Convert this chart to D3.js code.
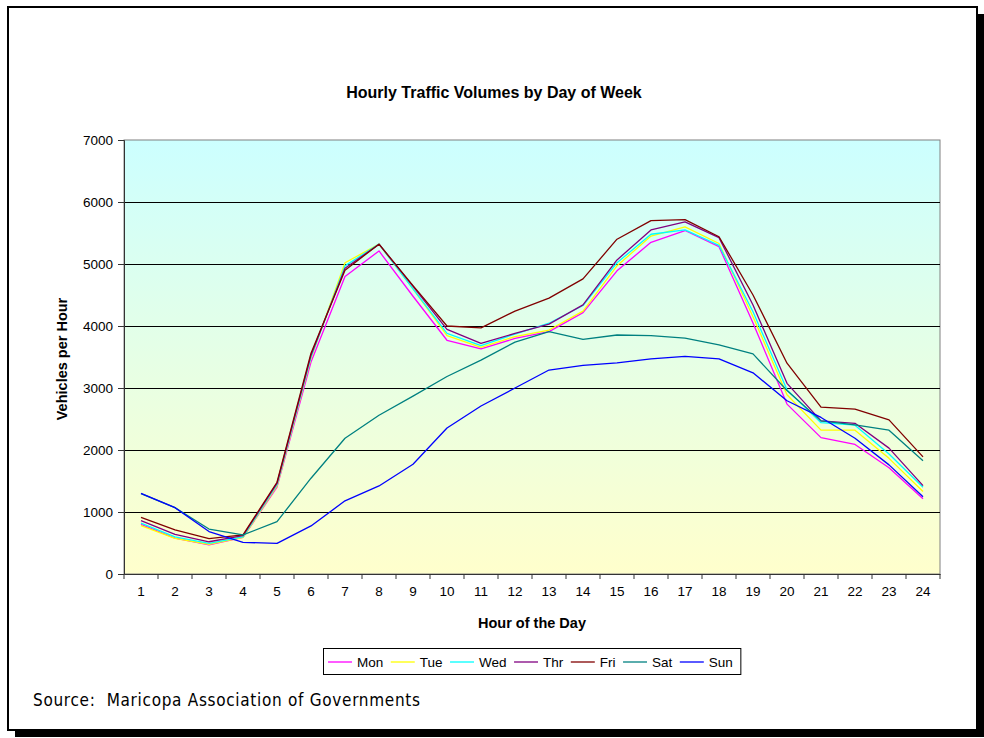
<!DOCTYPE html>
<html>
<head>
<meta charset="utf-8">
<script src="https://cdn.jsdelivr.net/npm/d3@7"></script>
<style>
  html, body { margin: 0; padding: 0; background: #fff; }
  svg { display: block; }
</style>
</head>
<body>
<svg id="chart" width="984" height="738"></svg>
<script>
// Hourly traffic volumes (vehicles per hour), by day of week
const hours = ["1","2","3","4","5","6","7","8","9","10","11","12","13","14","15","16","17","18","19","20","21","22","23","24"];
const yTicks = [0, 1000, 2000, 3000, 4000, 5000, 6000, 7000];
const dayNames = ["Mon", "Tue", "Wed", "Thr", "Fri", "Sat", "Sun"];

const mon = [800, 580, 470, 590, 1400, 3420, 4800, 5210, 4480, 3770, 3630, 3800, 3910, 4215, 4890, 5350, 5540, 5280, 4050, 2740, 2200, 2090, 1715, 1215];
const tue = [780, 575, 480, 590, 1420, 3480, 5020, 5320, 4600, 3845, 3655, 3830, 3935, 4240, 4970, 5450, 5600, 5330, 4150, 2890, 2320, 2320, 1865, 1330];
const wed = [820, 600, 495, 600, 1440, 3500, 4970, 5320, 4600, 3880, 3685, 3870, 4045, 4330, 5020, 5480, 5550, 5300, 4230, 2970, 2440, 2400, 1935, 1400];
const thr = [860, 640, 520, 620, 1460, 3530, 4930, 5320, 4640, 3945, 3720, 3880, 4030, 4340, 5065, 5550, 5680, 5425, 4340, 3075, 2470, 2430, 2030, 1425];
const fri = [915, 710, 570, 630, 1480, 3560, 4900, 5320, 4650, 4000, 3970, 4240, 4450, 4760, 5400, 5700, 5715, 5440, 4500, 3400, 2690, 2660, 2485, 1890];
const sat = [1295, 1070, 725, 630, 845, 1545, 2190, 2560, 2870, 3185, 3450, 3740, 3910, 3785, 3855, 3845, 3805, 3695, 3550, 2960, 2470, 2405, 2320, 1825];
const sun = [1300, 1070, 685, 510, 495, 775, 1180, 1420, 1770, 2355, 2710, 3000, 3290, 3365, 3405, 3470, 3510, 3470, 3245, 2795, 2525, 2190, 1760, 1245];

const dayColors = ["#ff00ff", "#ffff00", "#00ffff", "#800080", "#800000", "#008080", "#0000ff"];
const seriesValues = [mon, tue, wed, thr, fri, sat, sun];

const series = dayNames.map((name, i) => ({ name, color: dayColors[i], values: seriesValues[i] }));

const svg = d3.select("#chart");
const W = 984, H = 738;
const FONT = "'Liberation Sans', Arial, sans-serif";

// Page frame with drop shadow
svg.append("rect").attr("x", 15).attr("y", 14).attr("width", W - 15).attr("height", H - 15).attr("fill", "#000");
svg.append("rect").attr("x", 8).attr("y", 7).attr("width", 969).attr("height", 723)
  .attr("fill", "#fff").attr("stroke", "#000").attr("stroke-width", 2);

// Plot area
const plot = { left: 124, right: 940, top: 140, bottom: 574 };

const x = d3.scaleBand().domain(hours).range([plot.left, plot.right]).paddingInner(0).paddingOuter(0);
const y = d3.scaleLinear().domain([0, 7000]).range([plot.bottom, plot.top]);

const defs = svg.append("defs");
const grad = defs.append("linearGradient").attr("id", "plotFill")
  .attr("x1", 0).attr("y1", 0).attr("x2", 0).attr("y2", 1);
grad.append("stop").attr("offset", "0%").attr("stop-color", "#ccffff");
grad.append("stop").attr("offset", "100%").attr("stop-color", "#ffffcc");

svg.append("rect")
  .attr("x", plot.left).attr("y", plot.top)
  .attr("width", plot.right - plot.left).attr("height", plot.bottom - plot.top)
  .attr("fill", "url(#plotFill)")
  .attr("stroke", "#808080").attr("stroke-width", 1);

// Horizontal gridlines
svg.append("g").selectAll("line")
  .data(yTicks.filter(v => v > 0 && v < 7000))
  .join("line")
  .attr("x1", plot.left).attr("x2", plot.right)
  .attr("y1", d => Math.round(y(d)) + 0.5).attr("y2", d => Math.round(y(d)) + 0.5)
  .attr("stroke", "#000").attr("stroke-width", 1);

// Y axis
const yAxis = svg.append("g")
  .attr("transform", `translate(${plot.left},0)`)
  .call(d3.axisLeft(y).tickValues(yTicks).tickSize(6).tickPadding(5).tickFormat(d3.format("d")));
yAxis.select(".domain").attr("stroke", "#333");
yAxis.selectAll(".tick line").attr("stroke", "#333");
yAxis.selectAll("text").attr("font-family", FONT).attr("font-size", 13.5).attr("fill", "#000");

// X axis: ticks between categories
const xAxis = svg.append("g")
  .attr("transform", `translate(0,${plot.bottom})`)
  .call(d3.axisBottom(x).tickSize(0).tickPadding(12));
xAxis.select(".domain").attr("stroke", "#333");
xAxis.selectAll("text").attr("font-family", FONT).attr("font-size", 13.5).attr("fill", "#000");
xAxis.append("g").selectAll("line")
  .data(hours.concat(["end"]))
  .join("line")
  .attr("x1", (d, i) => plot.left + i * x.step())
  .attr("x2", (d, i) => plot.left + i * x.step())
  .attr("y1", 0).attr("y2", 5)
  .attr("stroke", "#333");

// Series lines
const line = d3.line()
  .x((d, i) => x(hours[i]) + x.bandwidth() / 2)
  .y(d => y(d));

svg.append("g").selectAll("path")
  .data(series)
  .join("path")
  .attr("d", d => line(d.values))
  .attr("fill", "none")
  .attr("stroke", d => d.color)
  .attr("stroke-width", 1.3)
  .attr("stroke-linejoin", "round");

// Titles
svg.append("text")
  .attr("x", 494).attr("y", 98)
  .attr("text-anchor", "middle")
  .attr("font-family", FONT).attr("font-size", 16).attr("font-weight", "bold")
  .text("Hourly Traffic Volumes by Day of Week");

svg.append("text")
  .attr("x", 532).attr("y", 628)
  .attr("text-anchor", "middle")
  .attr("font-family", FONT).attr("font-size", 14.5).attr("font-weight", "bold")
  .text("Hour of the Day");

svg.append("text")
  .attr("transform", "translate(67,359) rotate(-90)")
  .attr("text-anchor", "middle")
  .attr("font-family", FONT).attr("font-size", 14.5).attr("font-weight", "bold")
  .text("Vehicles per Hour");

// Legend
const legend = svg.append("g");
const legendBox = legend.append("rect")
  .attr("fill", "#fff").attr("stroke", "#000").attr("stroke-width", 1);
let cx = 328;
const ly = 662;
series.forEach(s => {
  legend.append("line")
    .attr("x1", cx).attr("x2", cx + 24)
    .attr("y1", ly).attr("y2", ly)
    .attr("stroke", s.color).attr("stroke-width", 1.3);
  const t = legend.append("text")
    .attr("x", cx + 29).attr("y", ly + 5)
    .attr("font-family", FONT).attr("font-size", 13.5)
    .text(s.name);
  cx += 29 + t.node().getComputedTextLength() + 7.5;
});
legendBox.attr("x", 323.5).attr("y", 648.5).attr("width", cx - 323).attr("height", 26);

// Source note
svg.append("text")
  .attr("x", 33).attr("y", 706)
  .attr("font-family", "'DejaVu Sans Condensed', 'DejaVu Sans', sans-serif")
  .attr("font-size", 17)
  .attr("textLength", 387)
  .attr("lengthAdjust", "spacing")
  .attr("xml:space", "preserve")
  .style("white-space", "pre")
  .text("Source:  Maricopa Association of Governments");
</script>
</body>
</html>
